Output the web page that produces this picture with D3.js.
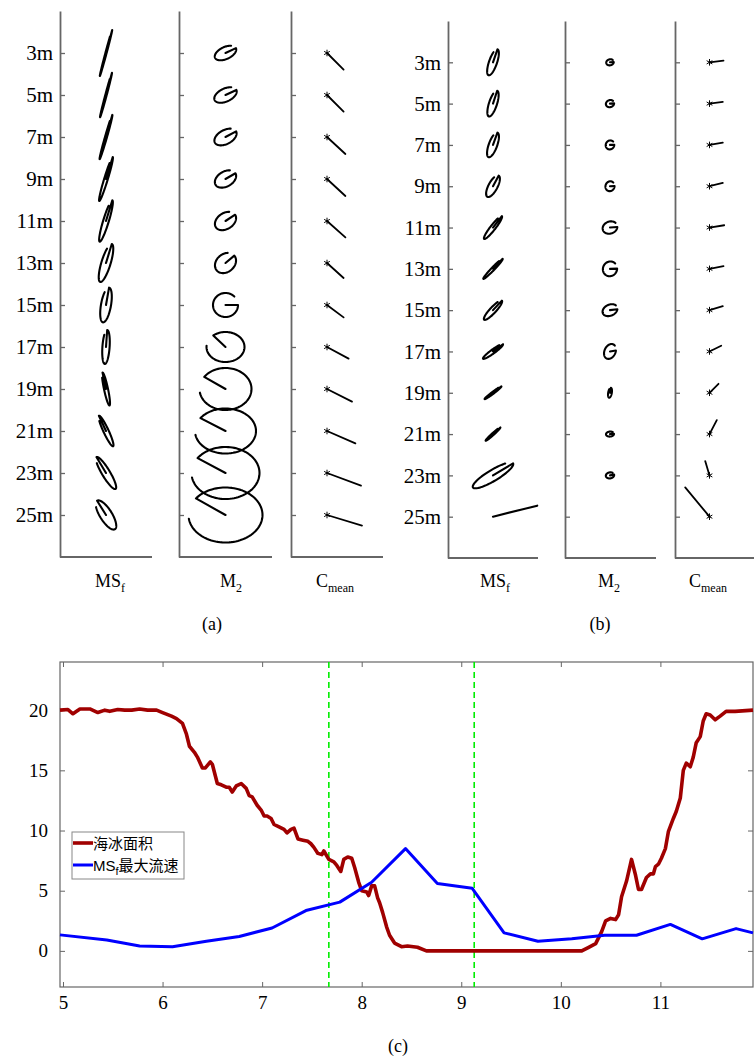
<!DOCTYPE html>
<html>
<head>
<meta charset="utf-8">
<script src="https://cdn.jsdelivr.net/npm/d3@7"></script>
<style>
  body { margin: 0; background: #fff; }
</style>
</head>
<body>
<script>
// depth rows used by both ellipse panels
const depths = [3, 5, 7, 9, 11, 13, 15, 17, 19, 21, 23, 25];

// panel (a) : MSf ellipses (cm/s, deg)
const aMsfMajor = [11.9, 11.5, 11.5, 11.5, 10.8, 9.9, 8.8, 8.5, 8.4, 8.4, 9.3, 8.4];
const aMsfMinor = [0.3, 0.35, 0.5, 0.9, 1.4, 2.3, 2.5, 1.8, 1.0, 1.3, 2.0, 3.0];
const aMsfIncl  = [75, 75, 74, 73, 73, 73, 80, 86, 102, 115, 121, 122];
const aMsfPhase = [0, 0, 0, 0, 0, 0, 0, 0, 0, 0, 0, 0];
// panel (a) : M2 ellipses
const aM2Major = [5.75, 6.0, 6.0, 5.75, 5.75, 5.75, 6.25, 9.5, 13, 15.25, 17, 18.5];
const aM2Minor = [3.0, 3.25, 3.5, 3.75, 4.0, 4.5, 6.0, 7.5, 10.5, 11.25, 13, 13.75];
const aM2Incl  = [25, 25, 28, 30, 33, 40, 0, 0, 0, 0, 0, 0];
const aM2Phase = [0, 0, 0, 0, 0, 0, 0, 130, 145, 145, 145, 143];
// panel (a) : mean current (east, north)
const aMeanU = [8.3, 8.3, 9.2, 9.2, 9.2, 8.3, 8.3, 10.8, 12.5, 14.2, 17, 17.5];
const aMeanV = [-8.3, -8.3, -8.5, -8.5, -8.2, -7.5, -6.2, -5.8, -6.3, -6.2, -6.3, -5.3];

// panel (b)
const bMsfMajor = [6.85, 6.75, 6.5, 6.0, 7.2, 6.95, 6.5, 6.15, 5.25, 4.95, 11.7, 22.8];
const bMsfMinor = [2.0, 2.0, 2.1, 2.25, 1.25, 0.75, 1.5, 1.0, 0.5, 0.5, 2.75, null];
const bMsfIncl  = [71, 72, 70, 62, 52, 46, 47, 36, 37, 42, 31, 14];
const bMsfPhase = [0, 0, 0, 0, 0, 0, 0, 0, 0, 0, 0, 0];
const bM2Major = [1.9, 2.1, 2.3, 2.5, 3.75, 3.75, 3.9, 3.9, 2.5, 2.0, 2.1, null];
const bM2Minor = [1.5, 1.75, 2.1, 2.25, 3.0, 3.5, 2.75, 2.75, 0.9, 1.25, 1.5, null];
const bM2Incl  = [15, 20, 60, 70, 20, 60, 25, 65, 80, 5, 10, null];
const bM2Phase = [-15, -20, -60, -70, -20, -60, -25, -65, 0, 0, 0, null];
const bMeanU = [7.0, 6.65, 6.65, 6.65, 7.35, 7.0, 6.65, 5.85, 4.5, 3.65, -2.15, -12.15];
const bMeanV = [0.85, 0.85, 1.15, 1.65, 1.15, 1.35, 2.0, 2.85, 4.5, 7.0, 7.15, 14.65];

// panel (c)
const iceDay = [4.97,5.05,5.1,5.17,5.27,5.35,5.42,5.47,5.55,5.62,5.69,5.77,5.85,5.94,6.0,6.09,6.14,6.2,6.24,6.27,
  6.32,6.35,6.4,6.43,6.48,6.5,6.55,6.59,6.64,6.67,6.7,6.74,6.79,6.84,6.87,6.9,6.95,6.99,7.02,7.05,
  7.09,7.12,7.17,7.22,7.25,7.29,7.32,7.36,7.41,7.46,7.49,7.52,7.56,7.6,7.62,7.67,7.72,7.75,7.79,7.82,
  7.86,7.9,7.93,7.97,8.0,8.05,8.07,8.1,8.13,8.16,8.18,8.21,8.25,8.28,8.33,8.4,8.46,8.56,8.65,9.0,
  9.5,10.0,10.21,10.28,10.35,10.41,10.45,10.5,10.55,10.58,10.61,10.66,10.71,10.75,10.78,10.81,10.86,10.9,10.93,10.95,
  10.98,11.01,11.05,11.08,11.13,11.16,11.2,11.23,11.26,11.3,11.33,11.36,11.4,11.43,11.46,11.5,11.55,11.6,11.66,11.75,11.93];
const iceArea = [20.0,20.05,19.7,20.1,20.1,19.8,20.0,19.9,20.05,20.0,20.0,20.1,20.0,20.0,19.8,19.5,19.3,18.9,18.0,17.0,
  16.5,16.1,15.2,15.2,15.7,15.5,13.9,13.8,13.6,13.6,13.2,13.7,13.9,13.5,12.9,12.8,12.1,11.7,11.2,11.2,
  11.0,10.5,10.3,10.1,9.8,10.1,10.2,9.3,9.2,9.1,8.9,8.6,8.1,8.0,8.3,7.6,7.4,7.1,6.6,7.6,
  7.8,7.7,6.9,5.7,5.0,4.9,4.6,5.4,5.4,4.4,4.0,3.2,2.0,1.3,0.65,0.35,0.4,0.3,0.0,0.0,
  0.0,0.0,0.0,0.3,0.6,1.6,2.5,2.7,2.6,3.0,4.5,5.8,7.6,6.3,5.1,5.1,6.1,6.4,6.4,7.0,
  7.2,7.7,8.5,9.9,11.0,11.6,12.7,15.0,15.6,15.3,16.1,17.3,17.8,19.1,19.7,19.6,19.2,19.5,19.9,19.9,20.0];
const msfDay = [4.97,5.44,5.77,6.1,6.44,6.77,7.1,7.44,7.78,8.1,8.44,8.76,9.11,9.43,9.77,10.11,10.44,10.76,11.1,11.42,11.76,11.93];
const msfSpeed = [1.33,0.9,0.4,0.35,0.8,1.2,1.9,3.35,4.05,5.7,8.5,5.6,5.2,1.5,0.8,1.0,1.3,1.3,2.2,1.0,1.85,1.5];
const markDays = [7.67, 9.13];
const xTicks = [5, 6, 7, 8, 9, 10, 11];
const yTicks = [0, 5, 10, 15, 20];

const W = 754, H = 1059;
const serif = "'Liberation Serif', 'Times New Roman', serif";
const sans = "'Liberation Sans', Arial, sans-serif";
const cjk = "'Noto Sans CJK SC', sans-serif";
const svg = d3.select("body").append("svg").attr("width", W).attr("height", H)
svg.append("rect").attr("width", W).attr("height", H).attr("fill", "#fff")

const axisGray = "#666";
const rad = Math.PI / 180;
const vel = d3.scaleLinear().domain([0, 1]).range([0, 2]); // px per cm/s

function ellipsePts(maj, min, incl, phase) {
  const c = Math.cos(incl * rad), s = Math.sin(incl * rad);
  const rot = (ex, ey) => [ex * c - ey * s, ex * s + ey * c];
  if (min === null) return [[0, 0], rot(maj, 0)];
  const t0 = phase * rad, sw = 315 * rad, n = 90;
  const pts = d3.range(n + 1).map(i => {
    const t = t0 - sw * i / n;
    return rot(maj * Math.cos(t), min * Math.sin(t));
  });
  return [[0, 0]].concat(pts);
}

function drawPanel(p) {
  const ys = d3.scaleLinear().domain([1, 27]).range(p.yRange);
  const g = svg.append("g");
  p.cols.forEach((col, ci) => {
    const xs = d3.scaleLinear().domain([0, 1]).range([col.origin, col.origin + vel(1)]);
    // axes
    const ax = d3.axisLeft(ys).tickValues(depths).tickSizeInner(-5).tickSizeOuter(0).tickPadding(7)
      .tickFormat(ci === 0 ? (d => d + "m") : (() => ""));
    const ag = g.append("g").attr("transform", `translate(${col.x0},0)`).call(ax);
    ag.select(".domain").attr("stroke", axisGray).attr("stroke-width", 1.8);
    ag.selectAll(".tick line").attr("stroke", axisGray).attr("stroke-width", 1.3);
    ag.selectAll(".tick text").attr("font-size", 21).style("font-family", serif).attr("fill", "#000");
    g.append("line").attr("x1", col.x0).attr("x2", col.x1).attr("y1", ys(27)).attr("y2", ys(27))
      .attr("stroke", axisGray).attr("stroke-width", 1.8);

    // column label
    const lab = g.append("text").attr("x", col.labelX).attr("y", 587).attr("text-anchor", "middle")
      .attr("font-size", 18).style("font-family", serif);
    lab.append("tspan").text(col.name);
    lab.append("tspan").attr("font-size", 12).attr("dy", 5).text(col.sub);

    const lineGen = d => d3.line().x(q => xs(q[0])).y(q => ys(d) - vel(q[1]));
    if (col.kind === "ellipse") {
      depths.forEach((d, i) => {
        if (col.major[i] === null) return;
        g.append("path")
          .attr("d", lineGen(d)(ellipsePts(col.major[i], col.minor[i], col.incl[i], col.phase[i])))
          .attr("fill", "none").attr("stroke", "#000").attr("stroke-width", 2.1)
          .attr("stroke-linejoin", "round").attr("stroke-linecap", "round");
      });
    } else {
      depths.forEach((d, i) => {
        g.append("path").attr("d", lineGen(d)([[0, 0], [col.u[i], col.v[i]]]))
          .attr("stroke", "#000").attr("stroke-width", 1.8).attr("stroke-linecap", "round");
        g.append("path").attr("d", d3.symbol(d3.symbolAsterisk, 30)())
          .attr("transform", `translate(${xs(0)},${ys(d)})`)
          .attr("fill", "none").attr("stroke", "#000").attr("stroke-width", 1);
      });
    }
  });
  svg.append("text").attr("x", p.tagX).attr("y", 630).attr("text-anchor", "middle")
    .attr("font-size", 18).style("font-family", serif).text(p.tag);
}

drawPanel({
  yRange: [11, 557], tag: "(a)", tagX: 212,
  cols: [
    {kind: "ellipse", x0: 60, x1: 152, origin: 106, labelX: 110, name: "MS", sub: "f",
     major: aMsfMajor, minor: aMsfMinor, incl: aMsfIncl, phase: aMsfPhase},
    {kind: "ellipse", x0: 179, x1: 272, origin: 225.5, labelX: 231, name: "M", sub: "2",
     major: aM2Major, minor: aM2Minor, incl: aM2Incl, phase: aM2Phase},
    {kind: "mean", x0: 291, x1: 383, origin: 327, labelX: 335, name: "C", sub: "mean",
     u: aMeanU, v: aMeanV}
  ]
});
drawPanel({
  yRange: [21, 558], tag: "(b)", tagX: 600,
  cols: [
    {kind: "ellipse", x0: 448, x1: 538, origin: 493, labelX: 495, name: "MS", sub: "f",
     major: bMsfMajor, minor: bMsfMinor, incl: bMsfIncl, phase: bMsfPhase},
    {kind: "ellipse", x0: 565, x1: 656, origin: 610, labelX: 609, name: "M", sub: "2",
     major: bM2Major, minor: bM2Minor, incl: bM2Incl, phase: bM2Phase},
    {kind: "mean", x0: 675, x1: 760, origin: 709.5, labelX: 708, name: "C", sub: "mean",
     u: bMeanU, v: bMeanV}
  ]
});

// ---------- panel (c)
const cx = d3.scaleLinear().domain([4.97, 11.93]).range([60, 753]);
const cy = d3.scaleLinear().domain([-3, 24]).range([987, 662]);
const gc = svg.append("g");

gc.append("rect").attr("x", 60).attr("y", 662).attr("width", 693).attr("height", 325)
  .attr("fill", "none").attr("stroke", axisGray).attr("stroke-width", 1.2);

const styleAxis = (sel, labels) => {
  sel.select(".domain").remove();
  sel.selectAll(".tick line").attr("stroke", axisGray).attr("stroke-width", 1);
  sel.selectAll(".tick text").attr("font-size", 19).style("font-family", serif).attr("fill", "#000");
  if (!labels) sel.selectAll(".tick text").remove();
};
const fmt = d3.format("d");
gc.append("g").attr("transform", "translate(0,987)")
  .call(d3.axisBottom(cx).tickValues(xTicks).tickFormat(fmt).tickSize(-5).tickPadding(9)).call(styleAxis, true);
gc.append("g").attr("transform", "translate(0,662)")
  .call(d3.axisTop(cx).tickValues(xTicks).tickSize(-5)).call(styleAxis, false);
gc.append("g").attr("transform", "translate(60,0)")
  .call(d3.axisLeft(cy).tickValues(yTicks).tickFormat(fmt).tickSize(-5).tickPadding(12)).call(styleAxis, true);
gc.append("g").attr("transform", "translate(753,0)")
  .call(d3.axisRight(cy).tickValues(yTicks).tickSize(-5)).call(styleAxis, false);

gc.selectAll(".mark").data(markDays).enter().append("line")
  .attr("x1", d => cx(d)).attr("x2", d => cx(d)).attr("y1", 662).attr("y2", 987)
  .attr("stroke", "#00ee00").attr("stroke-width", 1.6).attr("stroke-dasharray", "6,4");

const iceLine = d3.line().x((d, i) => cx(iceDay[i])).y(d => cy(d));
gc.append("path").attr("d", iceLine(iceArea)).attr("fill", "none")
  .attr("stroke", "#a00000").attr("stroke-width", 3.6).attr("stroke-linejoin", "round");
const msfLine = d3.line().x((d, i) => cx(msfDay[i])).y(d => cy(d));
gc.append("path").attr("d", msfLine(msfSpeed)).attr("fill", "none")
  .attr("stroke", "#0000ff").attr("stroke-width", 3).attr("stroke-linejoin", "round");

// legend
const lg = gc.append("g");
lg.append("rect").attr("x", 72).attr("y", 832).attr("width", 112).attr("height", 47)
  .attr("fill", "#fff").attr("stroke", "#888").attr("stroke-width", 1);
lg.append("line").attr("x1", 73).attr("x2", 93).attr("y1", 843).attr("y2", 843)
  .attr("stroke", "#a00000").attr("stroke-width", 3.6);
lg.append("line").attr("x1", 73).attr("x2", 93).attr("y1", 865).attr("y2", 865)
  .attr("stroke", "#0000ff").attr("stroke-width", 3);
lg.append("text").attr("x", 93).attr("y", 848.5).attr("font-size", 15)
  .style("font-family", cjk).text("海冰面积");
const t2 = lg.append("text").attr("x", 93).attr("y", 870.5).attr("font-size", 15)
  .style("font-family", sans);
t2.append("tspan").text("MS");
t2.append("tspan").attr("font-size", 11).attr("dy", 4).text("f");
t2.append("tspan").attr("dy", -4).style("font-family", cjk).text("最大流速");

svg.append("text").attr("x", 398).attr("y", 1052).attr("text-anchor", "middle")
  .attr("font-size", 18).style("font-family", serif).text("(c)");
</script>
</body>
</html>
